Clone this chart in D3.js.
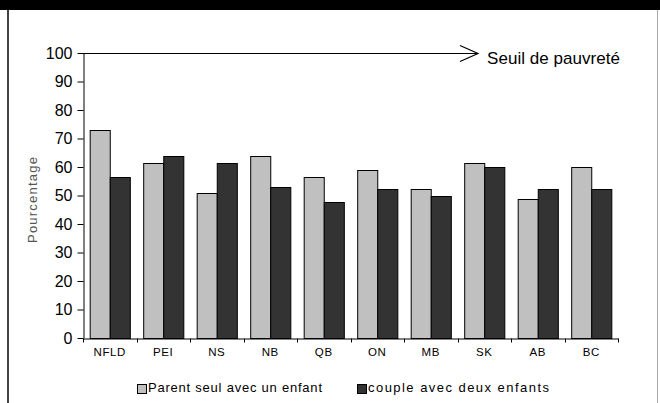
<!DOCTYPE html>
<html>
<head>
<meta charset="utf-8">
<script src="https://cdn.jsdelivr.net/npm/d3@7"></script>
<style>
  body { margin: 0; background: #fff; }
  svg { display: block; font-family: "Liberation Sans", Arial, sans-serif; }
</style>
</head>
<body>
<svg id="chart" width="660" height="403"></svg>
<script>
// Chart data
const categories = ['NFLD', 'PEI', 'NS', 'NB', 'QB', 'ON', 'MB', 'SK', 'AB', 'BC'];
const parentSeul = [73, 61.5, 51, 64, 56.5, 58.8, 52.2, 61.3, 48.7, 59.9];
const couple = [56.6, 64, 61.3, 52.9, 47.6, 52.2, 50, 59.9, 52.2, 52.2];
const seriesNames = ['Parent seul avec un enfant', 'couple avec deux enfants'];
const seriesColors = ['#c0c0c0', '#333333'];
const yTicks = [0, 10, 20, 30, 40, 50, 60, 70, 80, 90, 100];

const svg = d3.select('#chart');
const W = 660, H = 403;

// Frame: black band on top, side borders
svg.append('rect').attr('x', 0).attr('y', 0).attr('width', W).attr('height', 10).attr('fill', '#000');
svg.append('line').attr('x1', 8).attr('x2', 8).attr('y1', 10).attr('y2', H)
    .attr('stroke', '#444').attr('stroke-width', 2);
svg.append('line').attr('x1', 657.5).attr('x2', 657.5).attr('y1', 10).attr('y2', H)
    .attr('stroke', '#aaa').attr('stroke-width', 1);

// Scales
const x = d3.scaleBand().domain(categories).range([83, 618]).paddingInner(0.25).paddingOuter(0.125);
const x1 = d3.scaleBand().domain([0, 1]).range([0, x.bandwidth()]);
const y = d3.scaleLinear().domain([0, 100]).range([338, 53]);

// Bars
const groups = svg.append('g').selectAll('g')
    .data(categories)
    .join('g')
    .attr('transform', d => `translate(${x(d)},0)`);

groups.selectAll('rect')
    .data((d, i) => [parentSeul[i], couple[i]])
    .join('rect')
    .attr('x', (d, j) => x1(j) + 0.5)
    .attr('y', d => Math.round(y(d)) + 0.5)
    .attr('width', x1.bandwidth())
    .attr('height', d => Math.round(y(0)) - Math.round(y(d)))
    .attr('fill', (d, j) => seriesColors[j])
    .attr('stroke', '#000')
    .attr('stroke-width', 1);

// Y axis
const yAxis = svg.append('g')
    .attr('transform', 'translate(83.5,0)')
    .call(d3.axisLeft(y).tickValues(yTicks).tickSize(6).tickSizeOuter(0).tickPadding(5));
yAxis.select('.domain').attr('stroke', '#000');
yAxis.selectAll('line').attr('stroke', '#000');
yAxis.selectAll('text').attr('font-size', 16).attr('fill', '#000')
    .attr('font-family', '"Liberation Sans", Arial, sans-serif');

// X axis: line, boundary ticks, labels
const xAxis = svg.append('g')
    .attr('transform', `translate(0,${Math.round(y(0)) + 0.5})`)
    .call(d3.axisBottom(x).tickSize(0).tickPadding(9));
xAxis.select('.domain').attr('stroke', '#000');
xAxis.selectAll('text').attr('font-size', 11.5).attr('fill', '#000')
    .attr('font-family', '"Liberation Sans", Arial, sans-serif')
    .attr('letter-spacing', 0.6);
xAxis.selectAll('.bound')
    .data(d3.range(categories.length + 1))
    .join('line')
    .attr('class', 'bound')
    .attr('x1', i => Math.round(x.range()[0] + i * x.step()) + 0.5)
    .attr('x2', i => Math.round(x.range()[0] + i * x.step()) + 0.5)
    .attr('y1', 0).attr('y2', 4)
    .attr('stroke', '#000');

// Y axis title
svg.append('text')
    .attr('transform', 'translate(37,200) rotate(-90)')
    .attr('text-anchor', 'middle')
    .attr('font-size', 13)
    .attr('fill', '#555')
    .attr('textLength', 86)
    .text('Pourcentage');

// Poverty line arrow at 100
const arrowY = Math.round(y(100)) + 0.5;
svg.append('line')
    .attr('x1', 83).attr('x2', 478).attr('y1', arrowY).attr('y2', arrowY)
    .attr('stroke', '#000').attr('stroke-width', 1.2);
svg.append('path')
    .attr('d', `M460,${arrowY - 8}L478,${arrowY}L460,${arrowY + 8}`)
    .attr('fill', 'none').attr('stroke', '#000').attr('stroke-width', 1.2);
svg.append('text')
    .attr('x', 487).attr('y', arrowY + 10)
    .attr('font-size', 17)
    .attr('fill', '#000')
    .attr('textLength', 133)
    .text('Seuil de pauvreté');

// Legend
const legendItems = [
  { name: seriesNames[0], color: seriesColors[0], x: 137, w: 174 },
  { name: seriesNames[1], color: seriesColors[1], x: 357, w: 181 }
];
const legend = svg.append('g').selectAll('g')
    .data(legendItems)
    .join('g')
    .attr('transform', d => `translate(${d.x},0)`);
legend.append('rect')
    .attr('x', 0.5).attr('y', 384.5).attr('width', 9).attr('height', 9)
    .attr('fill', d => d.color).attr('stroke', '#000');
legend.append('text')
    .attr('x', 11).attr('y', 392)
    .attr('font-size', 13)
    .attr('fill', '#000')
    .attr('textLength', d => d.w)
    .text(d => d.name);
</script>
</body>
</html>
